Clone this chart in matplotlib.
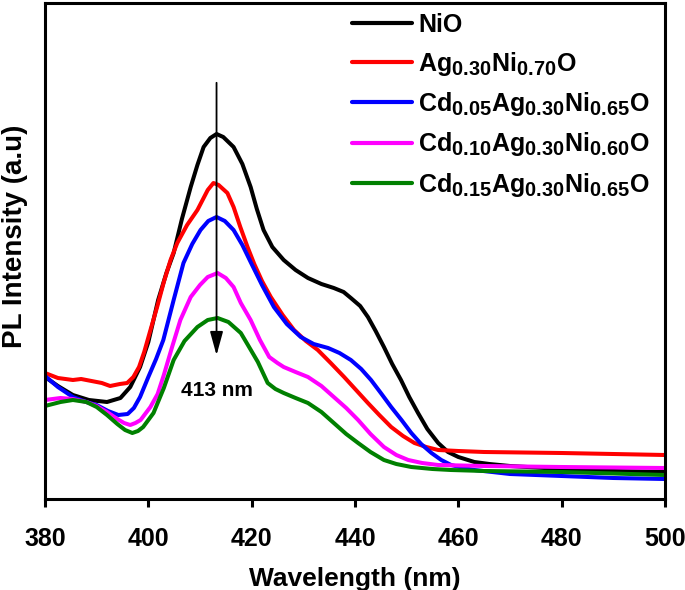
import matplotlib
matplotlib.use("Agg")
import matplotlib.pyplot as plt
try:
    import matplotlib._mathtext as _mt
    _mt.SHRINK_FACTOR = 0.8
except Exception:
    pass

plt.rcParams['font.family'] = ['Liberation Sans', 'DejaVu Sans']
plt.rcParams['font.weight'] = 'bold'
plt.rcParams['mathtext.fontset'] = 'custom'
plt.rcParams['mathtext.rm'] = 'Liberation Sans:bold'
plt.rcParams['mathtext.bf'] = 'Liberation Sans:bold'
plt.rcParams['mathtext.it'] = 'Liberation Sans:bold'

labels = ["NiO",
          r"$\mathbf{Ag_{0.30}Ni_{0.70}O}$",
          r"$\mathbf{Cd_{0.05}Ag_{0.30}Ni_{0.65}O}$",
          r"$\mathbf{Cd_{0.10}Ag_{0.30}Ni_{0.60}O}$",
          r"$\mathbf{Cd_{0.15}Ag_{0.30}Ni_{0.65}O}$"]
colors = ["black", "#ff0000", "#0000ff", "#ff00ff", "#008000"]

# NiO
w_nio = [380, 382.5, 385.4, 388.5, 392.0, 394.6, 396.5, 398.4, 400, 401.9, 403.5, 404.9,
         406.5, 408.2, 409.5, 410.7, 412, 413.2, 414.5, 416.5, 418.2, 419.8, 421, 422.3,
         424, 426.2, 428.5, 430.9, 433.5, 435.9, 437.8, 439.2, 441, 442.5, 444, 445.6,
         447.2, 448.9, 450.5, 452.2, 454, 456.1, 458, 460.0, 463.1, 466, 470, 480, 490, 500]
i_nio = [120, 111, 102, 97, 95, 99, 110, 130, 155, 197, 224, 244,
         278, 310, 332, 350, 359, 363, 360, 350, 333, 310, 288, 267,
         250, 237, 227, 219, 213, 209, 205, 199, 191, 180, 166, 150,
         133, 117, 100, 84, 68, 54, 45, 40, 35, 33, 31, 28, 26, 25]

# Ag0.30Ni0.70O
w_ag = [380, 382.5, 385.4, 387, 389, 391, 392.6, 394.5, 395.9, 397.1, 398.2, 399.2,
        400.3, 401.7, 403, 404.3, 405.6, 407.5, 409.5, 410.6, 411.5, 412.6, 413.6,
        415.3, 416.5, 417.8, 419.2, 420.5, 422, 423.7, 426, 428.2, 430.5, 432.8,
        435.3, 437.9, 440.2, 442.5, 444.7, 447.0, 449.3, 451.5, 453.8, 456.1, 460,
        465, 480, 490, 500]
i_ag = [124, 119, 117, 118, 116, 114, 111, 113, 114, 120, 130, 145,
        165, 190, 215, 237, 254, 272, 287, 298, 307, 314, 312,
        304, 290, 270, 250, 233, 216, 200, 182, 167, 156, 147,
        134, 120, 107, 94, 82, 70, 61, 54, 50, 47, 46,
        45, 44, 43, 42]

# Cd0.05Ag0.30Ni0.65O
w_cd05 = [380, 382.5, 385.4, 388, 390, 392.2, 394.2, 396, 397.2, 398.4, 400, 401.5,
          402.9, 404.9, 406.8, 408.5, 410.1, 411.6, 413.2, 414.8, 416.5, 418.2, 419.8,
          422, 424.3, 426.8, 429.5, 432, 434.8, 437, 439.2, 441.2, 443.1, 445, 447.0,
          449, 450.9, 452.8, 454.8, 456.7, 458.6, 461, 463.1, 470, 480, 490, 500]
i_cd05 = [121, 110, 100, 95, 92, 86, 82, 83, 89, 100, 120, 138,
          157, 197, 234, 253, 267, 276, 280, 276, 267, 252, 235,
          212, 190, 173, 160, 153, 149, 144, 137, 128, 117, 104, 90,
          77, 64, 53, 44, 37, 32, 29, 27, 23, 21, 19, 18]

# Cd0.10Ag0.30Ni0.60O
w_cd10 = [380, 383, 385.4, 388, 390, 392, 394, 395.3, 396.5, 397.5, 398.5, 400.4,
          401.8, 403, 404.6, 406.2, 408.2, 410, 411.5, 413.4, 415, 416.5, 417.9, 419.8,
          421.6, 423.4, 425, 426.2, 428.5, 430.9, 433.5, 435.9, 438.3, 440.6, 443,
          445.6, 448, 450.3, 453, 456.1, 465, 480, 500]
i_cd10 = [97, 99, 98, 95, 91, 85, 78, 74, 72, 74, 77, 90,
          103, 122, 150, 177, 200, 212, 220, 224, 219, 210, 194, 177,
          157, 140, 134, 130, 125, 120, 111, 100, 89, 77, 63,
          50, 42, 37, 34, 32, 31, 30, 29]

# Cd0.15Ag0.30Ni0.65O
w_cd15 = [380, 383, 385.4, 388, 390, 392, 394, 395.5, 396.9, 398, 399, 401.0,
          403, 404.9, 407, 409.5, 411.5, 413.4, 415.5, 417.9, 419.5, 421.2, 423.1,
          424.6, 426.2, 428.5, 430.9, 433.5, 435.9, 438.3, 440.6, 443, 445.6, 448,
          450.9, 455, 458.6, 465, 480, 500]
i_cd15 = [91, 95, 97, 95, 90, 82, 73, 67, 64, 66, 70, 84,
          109, 137, 156, 170, 177, 179, 175, 164, 150, 135, 114,
          108, 104, 99, 94, 85, 74, 63, 54, 45, 37, 33,
          30, 28, 27, 26, 25, 22]

series = [(w_nio, i_nio), (w_ag, i_ag), (w_cd05, i_cd05), (w_cd10, i_cd10), (w_cd15, i_cd15)]
xticks = [380, 400, 420, 440, 460, 480, 500]

fig = plt.figure(figsize=(6.85, 5.9), dpi=100)
ax = fig.add_axes([45/685, (590-499)/590, 620/685, (499-3)/590])

for (w, i), c, lab in zip(series, colors, labels):
    ax.plot(w, i, color=c, lw=2.9, label=lab, solid_capstyle='round', solid_joinstyle='round')

ax.set_xlim(380, 500)
ax.set_ylim(-2, 494)
ax.set_xticks(xticks)
ax.set_xticklabels([str(t) for t in xticks], fontsize=18, fontweight='bold')
ax.set_yticks([])
ax.tick_params(axis='x', direction='out', length=6, width=2.2, pad=14)
for s in ax.spines.values():
    s.set_linewidth(2.2)

ax.set_xlabel("Wavelength (nm)", fontsize=19, fontweight='bold', labelpad=12)
ax.set_ylabel("PL Intensity (a.u)", fontsize=20, fontweight='bold')
ax.yaxis.set_label_coords(-17/620, (499-236)/496)

ax.annotate('', xy=(413.2, 139), xytext=(413.2, 417),
            arrowprops=dict(arrowstyle='-|>,head_length=0.8,head_width=0.22',
                            lw=1.3, color='black', mutation_scale=18))
ax.text(413.2, 106, "413 nm", fontsize=15, fontweight='bold', ha='center', va='center')

leg = ax.legend(loc='upper left', bbox_to_anchor=((352-45)/620, (499-13)/496), frameon=False,
                fontsize=18, handlelength=2.4, handletextpad=0.25, labelspacing=0.5,
                borderaxespad=0.0, borderpad=0.0)
for t in leg.get_texts():
    t.set_fontweight('bold')
for h in leg.get_lines():
    h.set_linewidth(3.0)

fig.savefig("out.png", dpi=100)
